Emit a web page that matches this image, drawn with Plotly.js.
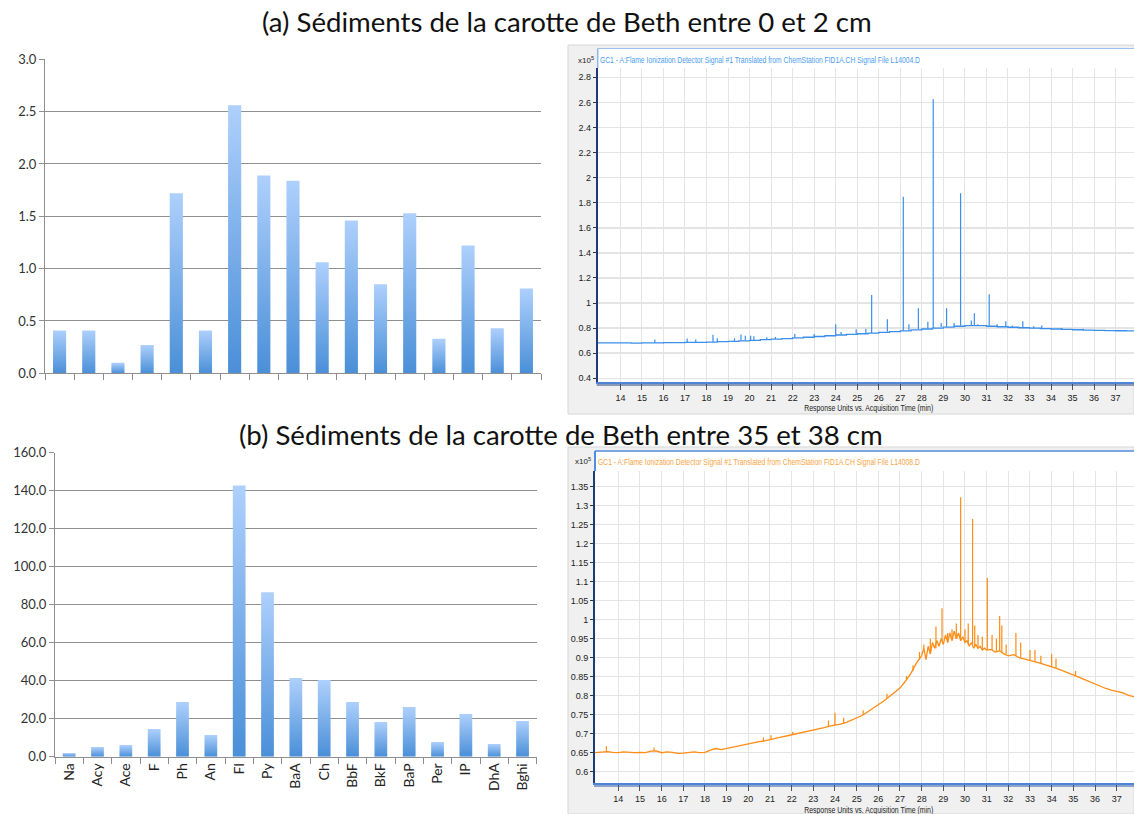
<!DOCTYPE html>
<html>
<head>
<meta charset="utf-8">
<script src="https://cdn.plot.ly/plotly-3.0.1.min.js"></script>
<style>
html,body{margin:0;padding:0;background:#fff;}
#chart{width:1134px;height:814px;}
</style>
</head>
<body>
<div id="chart"></div>
<script>
// ---------------- DATA ----------------
const categories = ['Na','Acy','Ace','F','Ph','An','Fl','Py','BaA','Ch','BbF','BkF','BaP','Per','IP','DhA','Bghi'];
const valuesA = [0.41,0.41,0.10,0.27,1.72,0.41,2.56,1.89,1.84,1.06,1.46,0.85,1.53,0.33,1.22,0.43,0.81];
const valuesB = [1.9,5.1,6.1,14.6,28.8,11.4,142.8,86.6,41.4,40.4,28.8,18.2,26.1,7.7,22.5,6.7,18.8];
const ticksA = [0,0.5,1.0,1.5,2.0,2.5,3.0];
const ticksB = [0,20,40,60,80,100,120,140,160];

const titleA = '(a) Sédiments de la carotte de Beth entre 0 et 2 cm';
const titleB = '(b) Sédiments de la carotte de Beth entre 35 et 38 cm';
const gcTitleA = 'GC1 - A:Flame Ionization Detector Signal #1 Translated from ChemStation FID1A.CH Signal File L14004.D';
const gcTitleB = 'GC1 - A:Flame Ionization Detector Signal #1 Translated from ChemStation FID1A.CH Signal File L14008.D';
const gcXLabel = 'Response Units vs. Acquisition Time (min)';
const gcUnit = 'x10<sup>5</sup>';

const gcXTicks = [14,15,16,17,18,19,20,21,22,23,24,25,26,27,28,29,30,31,32,33,34,35,36,37];
const gcXTickText = ['14','15','16','17','18','19','20','21','22','23','24','25','26','27','28','29','30','31','32','33','34','35','36','37'];
const gcAYTicks = [0.4,0.6,0.8,1.0,1.2,1.4,1.6,1.8,2.0,2.2,2.4,2.6,2.8];
const gcAYText = ['0.4','0.6','0.8','1','1.2','1.4','1.6','1.8','2','2.2','2.4','2.6','2.8'];
const gcBYTicks = [0.6,0.65,0.7,0.75,0.8,0.85,0.9,0.95,1.0,1.05,1.1,1.15,1.2,1.25,1.3,1.35];
const gcBYText = ['0.6','0.65','0.7','0.75','0.8','0.85','0.9','0.95','1','1.05','1.1','1.15','1.2','1.25','1.3','1.35'];

// Chromatogram (a) baseline
const gcA_t = [12.95,13.5,14,14.5,15,15.5,16,16.5,17,17.5,18,18.5,19,19.5,20,20.5,21,21.5,22,22.5,23,23.5,24,24.5,25,25.5,26,26.5,27,27.5,28,28.5,29,29.5,30,30.5,31,31.5,32,32.5,33,33.5,34,34.5,35,35.5,36,36.5,37,37.5,37.85];
const gcA_v = [0.683,0.682,0.683,0.681,0.682,0.683,0.684,0.684,0.686,0.687,0.688,0.692,0.695,0.699,0.703,0.708,0.712,0.717,0.722,0.727,0.733,0.739,0.745,0.750,0.755,0.760,0.766,0.772,0.778,0.786,0.793,0.800,0.808,0.815,0.820,0.820,0.815,0.811,0.807,0.803,0.800,0.796,0.793,0.790,0.787,0.784,0.782,0.780,0.779,0.778,0.777];
// Chromatogram (a) peaks
const gcA_peakT    = [15.6,17.1,17.5,18.3,18.5,19.3,19.6,19.8,20.05,20.2,20.8,21.2,22.1,23.0,24.0,24.25,24.95,25.4,25.67,26.4,27.14,27.4,27.84,28.28,28.53,28.9,29.15,29.5,29.8,30.3,30.44,30.6,31.13,31.5,31.9,32.2,32.69,33.2,33.57,34.5,35.5];
const gcA_peakBase = [0.683,0.686,0.687,0.690,0.692,0.697,0.700,0.702,0.703,0.705,0.710,0.714,0.723,0.733,0.745,0.748,0.755,0.759,0.762,0.771,0.780,0.783,0.790,0.797,0.801,0.808,0.811,0.815,0.818,0.820,0.820,0.820,0.814,0.811,0.808,0.805,0.802,0.798,0.796,0.790,0.784];
const gcA_peakTop  = [0.710,0.718,0.710,0.748,0.720,0.720,0.750,0.740,0.740,0.735,0.728,0.730,0.753,0.753,0.830,0.770,0.790,0.795,1.064,0.870,1.848,0.830,0.958,0.850,2.625,0.840,0.958,0.840,1.875,0.860,0.918,0.830,1.070,0.830,0.855,0.820,0.855,0.815,0.820,0.800,0.795];

// Chromatogram (b) baseline
const gcB_t = [12.93,13.25,13.5,13.75,14.0,14.25,14.5,14.75,15.0,15.25,15.5,15.75,16.0,16.25,16.5,16.75,17.0,17.25,17.5,17.75,18.0,18.25,18.5,18.75,19.0,19.25,19.5,19.75,20.0,20.25,20.5,20.75,21.0,21.25,21.5,21.75,22.0,22.25,22.5,22.75,23.0,23.25,23.5,23.75,24.0,24.25,24.5,24.75,25.0,25.25,25.5,25.75,26.0,26.25,26.5,26.75,27.0,27.25,27.5,27.75,28.0,28.1,28.2,28.3,28.4,28.5,28.6,28.7,28.8,28.9,29.0,29.1,29.2,29.3,29.4,29.5,29.6,29.7,29.8,29.9,30.0,30.1,30.2,30.3,30.4,30.5,30.6,30.7,30.8,30.9,31.0,31.2,31.4,31.6,31.8,32.0,32.25,32.5,32.75,33.0,33.25,33.5,33.75,34.0,34.25,34.5,34.75,35.0,35.25,35.5,35.75,36.0,36.25,36.5,36.75,37.0,37.25,37.5,37.8];
const gcB_v = [0.650,0.652,0.653,0.651,0.650,0.652,0.651,0.650,0.651,0.650,0.654,0.655,0.650,0.652,0.651,0.648,0.649,0.651,0.652,0.650,0.651,0.657,0.661,0.658,0.661,0.664,0.667,0.670,0.675,0.677,0.679,0.681,0.685,0.687,0.691,0.694,0.697,0.699,0.702,0.705,0.709,0.713,0.716,0.720,0.722,0.725,0.729,0.735,0.742,0.748,0.757,0.766,0.775,0.786,0.797,0.808,0.820,0.838,0.858,0.885,0.905,0.925,0.895,0.930,0.910,0.940,0.925,0.945,0.930,0.950,0.935,0.960,0.940,0.965,0.945,0.970,0.950,0.965,0.945,0.955,0.940,0.945,0.930,0.940,0.925,0.935,0.925,0.930,0.920,0.925,0.920,0.922,0.915,0.918,0.910,0.905,0.908,0.900,0.897,0.893,0.889,0.885,0.881,0.876,0.871,0.866,0.861,0.855,0.849,0.843,0.837,0.830,0.824,0.819,0.815,0.812,0.808,0.802,0.797];
// Chromatogram (b) peaks
const gcB_peakT    = [13.45,15.65,20.7,21.05,22.05,23.7,24.0,24.4,25.3,26.4,27.3,27.6,27.9,28.1,28.4,28.66,28.94,29.2,29.4,29.6,29.8,30.0,30.15,30.35,30.45,30.6,30.8,31.03,31.25,31.45,31.6,31.7,31.9,32.35,32.57,33.0,33.23,33.5,34.0,34.2,35.1];
const gcB_peakBase = [0.652,0.655,0.680,0.685,0.697,0.719,0.722,0.728,0.749,0.793,0.842,0.865,0.895,0.925,0.910,0.925,0.945,0.940,0.945,0.950,0.945,0.940,0.935,0.935,0.930,0.925,0.920,0.920,0.920,0.918,0.918,0.915,0.910,0.905,0.900,0.893,0.890,0.885,0.876,0.873,0.853];
const gcB_peakTop  = [0.667,0.664,0.690,0.696,0.705,0.735,0.755,0.742,0.762,0.805,0.852,0.880,0.915,0.935,0.950,0.982,1.030,0.965,0.975,0.990,1.322,0.975,0.990,1.265,0.985,0.960,0.955,1.110,0.960,0.950,1.010,0.985,0.935,0.965,0.940,0.920,0.920,0.905,0.910,0.898,0.865];

// ---------------- HELPERS ----------------
const W = 1134, H = 814;
const PX = x => x / W;
const PY = y => 1 - y / H;

function spikes(t, b, top) {
  const x = [], y = [];
  for (let i = 0; i < t.length; i++) {
    x.push(t[i], t[i], null);
    y.push(b[i], top[i], null);
  }
  return {x, y};
}

const blueLine = '#3a8fec';
const orangeLine = '#ff8c14';
const pkA = spikes(gcA_peakT, gcA_peakBase, gcA_peakTop);
const pkB = spikes(gcB_peakT, gcB_peakBase, gcB_peakTop);

const traces = [
  {type:'bar', x:categories, y:valuesA, xaxis:'x', yaxis:'y', marker:{color:'#7fb0ee', line:{width:0}}, hoverinfo:'skip'},
  {type:'bar', x:categories, y:valuesB, xaxis:'x2', yaxis:'y2', marker:{color:'#7fb0ee', line:{width:0}}, hoverinfo:'skip'},
  {type:'scatter', mode:'lines', x:gcA_t, y:gcA_v, xaxis:'x3', yaxis:'y3', line:{color:blueLine, width:1.3, shape:'hv'}, hoverinfo:'skip'},
  {type:'scatter', mode:'lines', x:pkA.x, y:pkA.y, xaxis:'x3', yaxis:'y3', line:{color:blueLine, width:1.2}, hoverinfo:'skip'},
  {type:'scatter', mode:'lines', x:gcB_t, y:gcB_v, xaxis:'x4', yaxis:'y4', line:{color:orangeLine, width:1.3}, hoverinfo:'skip'},
  {type:'scatter', mode:'lines', x:pkB.x, y:pkB.y, xaxis:'x4', yaxis:'y4', line:{color:orangeLine, width:1.2}, hoverinfo:'skip'}
];

const barFont = {family:'Lato, "Open Sans", sans-serif', size:13, color:'#333'};
const gcFam = '"Liberation Sans", Arial, sans-serif';
const gcFont = {family:gcFam, size:9, color:'#222'};
const gridExcel = '#8f8f8f';

const barX = (dom, anchor, labels) => ({
  domain: dom, anchor: anchor, type:'category', range:[-0.5, 16.5], fixedrange:true,
  showline:true, linecolor:gridExcel, linewidth:1,
  ticks:'outside', ticklen:6, tickcolor:gridExcel, tickson:'boundaries',
  showgrid:false, zeroline:false,
  showticklabels: labels, tickangle:-90, tickfont:{family:'Lato, "Open Sans", sans-serif', size:14, color:'#222'}
});
const barY = (dom, anchor, range, ticks) => ({
  domain: dom, anchor: anchor, range: range, fixedrange:true,
  tickmode:'array', tickvals:ticks, tickformat:'.1f',
  showline:true, linecolor:gridExcel, linewidth:1,
  ticks:'outside', ticklen:5, tickcolor:gridExcel,
  showgrid:true, gridcolor:gridExcel, gridwidth:1, zeroline:false,
  tickfont: barFont
});
const gcX = (dom, anchor, range) => ({
  domain: dom, anchor: anchor, range: range, fixedrange:true,
  tickmode:'array', tickvals:gcXTicks, ticktext:gcXTickText,
  showline:true, linecolor:'#4d84d6', linewidth:1.5,
  ticks:'outside', ticklen:6, tickcolor:'#555', tickwidth:1,
  showgrid:true, gridcolor:'#e4e4e4', gridwidth:1, zeroline:false,
  tickfont: gcFont
});
const gcY = (dom, anchor, range, ticks, text) => ({
  domain: dom, anchor: anchor, range: range, fixedrange:true,
  tickmode:'array', tickvals:ticks, ticktext:text,
  showline:true, linecolor:'#1c3b78', linewidth:2,
  ticks:'outside', ticklen:3, tickcolor:'#333',
  showgrid:true, gridcolor:'#e4e4e4', gridwidth:1.5, zeroline:false,
  tickfont: gcFont
});

const shapes = [
  {type:'rect', xref:'paper', yref:'paper', x0:PX(568), x1:PX(1134), y0:PY(414), y1:PY(45), fillcolor:'#f0f0f0', line:{color:'#d6d6d6', width:1}, layer:'below'},
  {type:'rect', xref:'paper', yref:'paper', x0:PX(568), x1:PX(1134), y0:PY(814), y1:PY(447), fillcolor:'#f0f0f0', line:{color:'#d6d6d6', width:1}, layer:'below'},
  {type:'rect', xref:'x3 domain', yref:'y3 domain', x0:0, x1:1, y0:0, y1:1, fillcolor:'#ffffff', line:{width:0}, layer:'below'},
  {type:'rect', xref:'x4 domain', yref:'y4 domain', x0:0, x1:1, y0:0, y1:1, fillcolor:'#ffffff', line:{width:0}, layer:'below'},
  {type:'rect', xref:'paper', yref:'paper', x0:PX(597.7), x1:PX(1134), y0:PY(68), y1:PY(48), fillcolor:'#ffffff', line:{width:0}, layer:'below'},
  {type:'rect', xref:'paper', yref:'paper', x0:PX(595), x1:PX(1134), y0:PY(471), y1:PY(450.7), fillcolor:'#ffffff', line:{width:0}, layer:'below'},
  {type:'line', xref:'paper', yref:'paper', x0:PX(597.7), x1:PX(1134), y0:PY(48.5), y1:PY(48.5), line:{color:'#9cc2ee', width:1}},
  {type:'line', xref:'paper', yref:'paper', x0:PX(597.7), x1:PX(597.7), y0:PY(68), y1:PY(48.5), line:{color:'#8fb6e8', width:1.5}},
  {type:'line', xref:'paper', yref:'paper', x0:PX(595), x1:PX(1134), y0:PY(451), y1:PY(451), line:{color:'#4f8ee0', width:1.5}},
  {type:'line', xref:'paper', yref:'paper', x0:PX(595), x1:PX(595), y0:PY(471), y1:PY(451), line:{color:'#4f8ee0', width:2}},
  {type:'line', xref:'paper', yref:'paper', x0:PX(596.7), x1:PX(1134), y0:PY(385), y1:PY(385), line:{color:'#22407c', width:1.2}},
  {type:'line', xref:'paper', yref:'paper', x0:PX(594), x1:PX(1134), y0:PY(786), y1:PY(786), line:{color:'#2a55a8', width:1.2}}
];

const annotations = [
  {text:titleA, xref:'paper', yref:'paper', x:PX(567), y:PY(22), xanchor:'center', yanchor:'middle', showarrow:false, font:{family:'Lato, "Open Sans", sans-serif', size:27.6, color:'#111'}},
  {text:titleB, xref:'paper', yref:'paper', x:PX(561), y:PY(434), xanchor:'center', yanchor:'middle', showarrow:false, font:{family:'Lato, "Open Sans", sans-serif', size:27.6, color:'#111'}},
  {text:gcUnit, xref:'paper', yref:'paper', x:PX(596), y:PY(60), xanchor:'right', yanchor:'middle', showarrow:false, font:{family:gcFam, size:8, color:'#222'}},
  {text:gcTitleA, xref:'paper', yref:'paper', x:PX(760), y:PY(59.5), xanchor:'center', yanchor:'middle', showarrow:false, font:{family:gcFam, size:9.5, color:'#4a9cf0'}},
  {text:gcXLabel, xref:'paper', yref:'paper', x:PX(868), y:PY(407), xanchor:'center', yanchor:'middle', showarrow:false, font:{family:gcFam, size:9.5, color:'#222'}},
  {text:gcUnit, xref:'paper', yref:'paper', x:PX(593), y:PY(461), xanchor:'right', yanchor:'middle', showarrow:false, font:{family:gcFam, size:8, color:'#222'}},
  {text:gcTitleB, xref:'paper', yref:'paper', x:PX(759), y:PY(461), xanchor:'center', yanchor:'middle', showarrow:false, font:{family:gcFam, size:9.5, color:'#f9a445'}},
  {text:gcXLabel, xref:'paper', yref:'paper', x:PX(868), y:PY(809), xanchor:'center', yanchor:'middle', showarrow:false, font:{family:gcFam, size:9.5, color:'#222'}}
];

const layout = {
  width:W, height:H, autosize:false,
  margin:{l:0, r:0, t:0, b:0, pad:0},
  paper_bgcolor:'#ffffff', plot_bgcolor:'rgba(0,0,0,0)',
  showlegend:false, bargap:0.55,
  xaxis: barX([PX(45), PX(541)], 'y', false),
  yaxis: barY([PY(373.3), PY(59.3)], 'x', [0,3], ticksA),
  xaxis2: barX([PX(55), PX(536.7)], 'y2', true),
  yaxis2: barY([PY(756.7), PY(452.7)], 'x2', [0,160], ticksB),
  xaxis3: gcX([PX(597.7), 1], 'y3', [12.946, 37.855]),
  yaxis3: gcY([PY(382.3), PY(68)], 'x3', [0.368, 2.874], gcAYTicks, gcAYText),
  xaxis4: gcX([PX(595), 1], 'y4', [12.925, 37.80]),
  yaxis4: gcY([PY(783.3), PY(471)], 'x4', [0.5695, 1.3913], gcBYTicks, gcBYText),
  shapes: shapes,
  annotations: annotations
};

// widths (px) of the squeezed screenshot texts
const squeeze = {};
squeeze[gcTitleA] = 320; squeeze[gcTitleB] = 322; squeeze[gcXLabel] = 129;

Plotly.newPlot('chart', traces, layout, {displayModeBar:false, staticPlot:true}).then(function(gd){
  const svg = gd.querySelector('.main-svg');
  const ns = 'http://www.w3.org/2000/svg';
  let defs = svg.querySelector('defs');
  if (!defs) { defs = document.createElementNS(ns, 'defs'); svg.insertBefore(defs, svg.firstChild); }
  const lg = document.createElementNS(ns, 'linearGradient');
  lg.setAttribute('id', 'excelBarGrad');
  lg.setAttribute('x1', '0'); lg.setAttribute('y1', '0');
  lg.setAttribute('x2', '0'); lg.setAttribute('y2', '1');
  [['0', '#aed0fc'], ['1', '#4a8fd8']].forEach(function(s){
    const st = document.createElementNS(ns, 'stop');
    st.setAttribute('offset', s[0]); st.setAttribute('stop-color', s[1]);
    lg.appendChild(st);
  });
  defs.appendChild(lg);
  gd.querySelectorAll('.barlayer .point path').forEach(function(p){
    p.style.fill = 'url(#excelBarGrad)';
  });
  gd.querySelectorAll('.annotation-text').forEach(function(t){
    const w = squeeze[t.textContent];
    if (w) { t.setAttribute('textLength', w); t.setAttribute('lengthAdjust', 'spacingAndGlyphs'); }
  });
});
</script>
</body>
</html>
